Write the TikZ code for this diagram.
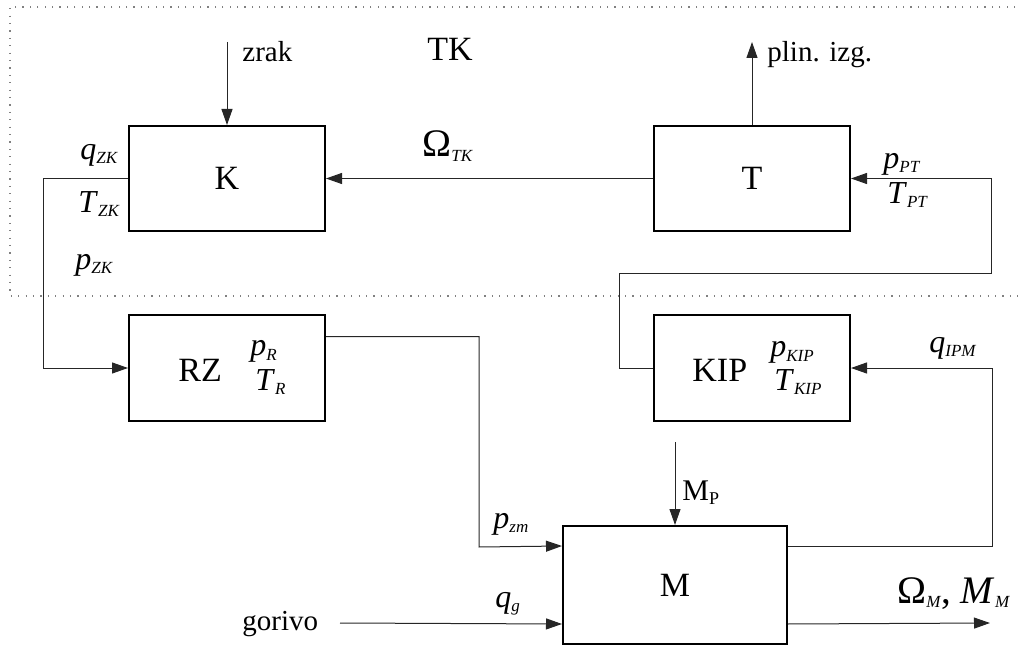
\documentclass[tikz,border=0pt]{standalone}
\usepackage{fontspec}
\setmainfont{Liberation Serif}
\usetikzlibrary{arrows.meta}
\newcommand\lsub[1]{\raisebox{-2pt}{\fontsize{8.5}{9}\selectfont\textit{#1}}}
\newcommand\usub[1]{\raisebox{-2pt}{\fontsize{9}{10}\selectfont #1}}
\begin{document}
\begin{tikzpicture}[x=0.5pt,y=-0.5pt,
  blok/.style={draw,line width=1pt,inner sep=0pt,minimum width=98pt,minimum height=52.5pt,font=\fontsize{17}{20}\selectfont},
  sig/.style={line width=0.5pt,draw=black!85,-{Triangle[length=8pt,width=5.5pt]}},
  lab/.style={inner sep=0pt,anchor=base west,font=\fontsize{14.5}{17}\selectfont},
  var/.style={inner sep=0pt,anchor=base west,font=\fontsize{16}{18}\selectfont},
  big/.style={inner sep=0pt,anchor=base west,font=\fontsize{17}{20}\selectfont},
  okvir/.style={gray,line width=0.6pt,dash pattern=on 0.6pt off 3.1pt}]
\useasboundingbox (0,0) rectangle (1019,647);
\draw[okvir] (1030,7) -- (10,7) -- (10,296) -- (1030,296);

\node[blok] (K) at (227,178.5) {K};
\node[blok] (T) at (752,178.5) {T};
\node[blok] (RZ) at (227,368) {};
\node[blok] (KIP) at (752,368) {};
\node[blok,minimum width=112pt,minimum height=59pt] (M) at (675,585) {M};

\coordinate (zrak) at (227,42);
\coordinate (plin) at (752,42);
\coordinate (mp) at (675,442);
\coordinate (gor) at (340,623);
\coordinate (izlaz) at (990,623);

\node[lab] (zrakL) at (242,62) {zrak};
\node[big] (TK) at (427,61) {TK};
\node[lab] (plinL) at (767,62) {plin. izg.};
\node[big,font=\fontsize{19.5}{22}\selectfont] (omTK) at (422,157) {Ω\lsub{TK}};
\node[var] (qZK) at (80,160) {\textit{q}\lsub{ZK}};
\node[var] (TZK) at (78,213) {\textit{T}\lsub{ZK}};
\node[var] (pZK) at (75,270) {\textit{p}\lsub{ZK}};
\node[var] (pPT) at (883,169) {\textit{p}\lsub{PT}};
\node[var] (TPT) at (887,204) {\textit{T}\lsub{PT}};
\node[big] (RZt) at (178,381) {RZ};
\node[var] (pR) at (250,356) {\textit{p}\lsub{R}};
\node[var] (TR) at (255,390) {\textit{T}\lsub{R}};
\node[big] (KIPt) at (692,381) {KIP};
\node[var] (pKIP) at (770,357) {\textit{p}\lsub{KIP}};
\node[var] (TKIP) at (774,390) {\textit{T}\lsub{KIP}};
\node[var] (qIPM) at (929,352) {\textit{q}\lsub{IPM}};
\node[inner sep=0pt,anchor=base west,font=\fontsize{15}{17}\selectfont] (MP) at (682,500) {M\usub{P}};
\node[var] (pzm) at (493,528) {\textit{p}\lsub{zm}};
\node[var] (qg) at (495,607) {\textit{q}\lsub{g}};
\node[lab] (gorL) at (242,630) {gorivo};
\node[big,font=\fontsize{19.5}{22}\selectfont] (omM) at (897,603) {Ω\lsub{M}, \textit{M}\lsub{M}};

\draw[sig] (zrak) -- (K.north);
\draw[sig] (T.north) -- (plin);
\draw[sig] (T.west) -- (K.east);
\draw[sig] (K.west) -- ++(-85,0) |- (RZ.west);
\draw[sig] ([yshift=-11pt]RZ.north east) -| (479,547) -- ([yshift=-10.5pt]M.north west);
\draw[sig] (gor) -- ([yshift=10.5pt]M.south west);
\draw[sig] ([yshift=10.5pt]M.south east) -- (izlaz);
\draw[sig] (mp) -- (M.north);
\draw[sig] ([yshift=-10.5pt]M.north east) -- ++(204,0) |- (KIP.east);
\draw[sig] (KIP.west) -- ++(-34,0) -- ++(0,-94) -- ++(372,0) |- (T.east);
\end{tikzpicture}
\end{document}
